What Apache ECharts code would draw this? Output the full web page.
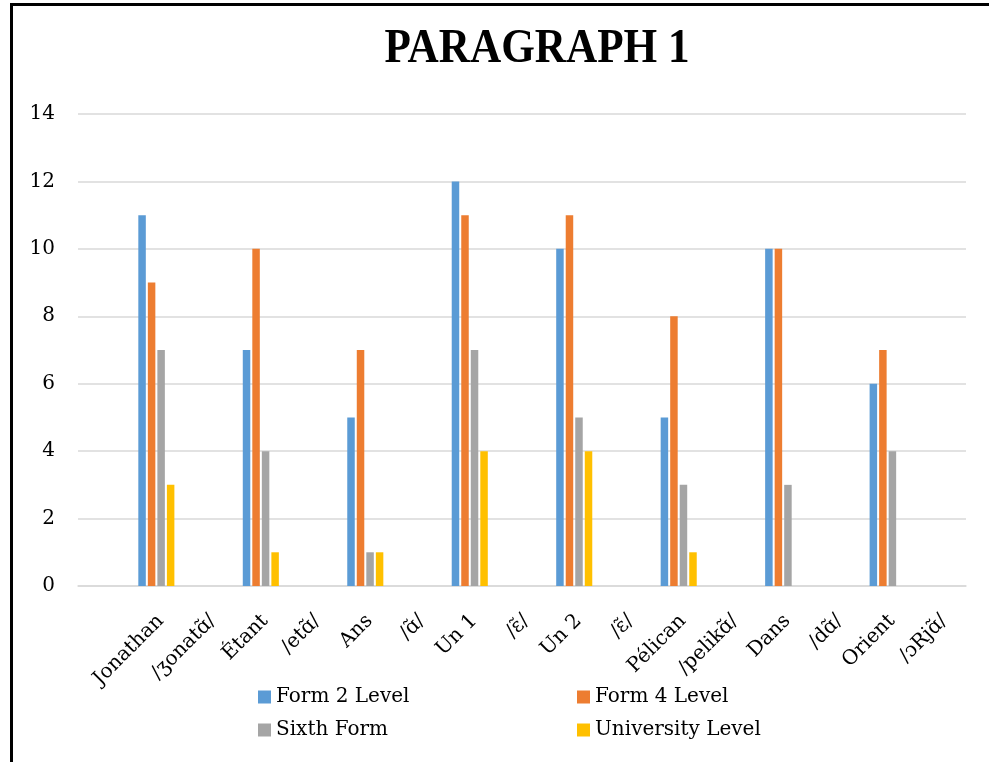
<!DOCTYPE html>
<html>
<head>
<meta charset="utf-8">
<script src="https://cdn.jsdelivr.net/npm/echarts@6/dist/echarts.min.js"></script>
<style>
  html, body { margin: 0; padding: 0; background: #fff; }
  #chart { width: 989px; height: 762px; }
</style>
</head>
<body>
<div id="chart"></div>
<script>
// first slot is left empty, word and its transcription alternate after it
var categories = ['', 'Jonathan', '/ʒonatɑ̃/', 'Étant', '/etɑ̃/', 'Ans', '/ɑ̃/', 'Un 1', '/ɛ̃/',
  'Un 2', '/ɛ̃/', 'Pélican', '/pelikɑ̃/', 'Dans', '/dɑ̃/', 'Orient', '/ɔRjɑ̃/']

var form2 = [null, 11, null, 7, null, 5, null, 12, null, 10, null, 5, null, 10, null, 6, null]
var form4 = [null, 9, null, 10, null, 7, null, 11, null, 11, null, 8, null, 10, null, 7, null]
var sixth = [null, 7, null, 4, null, 1, null, 7, null, 5, null, 3, null, 3, null, 4, null]
var university = [null, 3, null, 1, null, 1, null, 4, null, 4, null, 1, null, null, null, null, null]

var yTicks = { min: 0, max: 14, step: 2 }

var font = 'DejaVu Serif'

function bar(name, values, color) {
  return {
    name: name,
    type: 'bar',
    data: values,
    barWidth: 7.5,
    barGap: '27%',
    itemStyle: { color: color }
  }
}

function legendColumn(names, left) {
  return {
    data: names,
    orient: 'vertical',
    left: left,
    top: 687,
    padding: 0,
    itemWidth: 13,
    itemHeight: 13,
    itemGap: 13,
    icon: 'rect',
    textStyle: { fontFamily: font, fontSize: 20, color: '#000', lineHeight: 20 }
  }
}

var chart = echarts.init(document.getElementById('chart'))
var option = {
  animation: false,
  backgroundColor: '#fff',
  textStyle: { fontFamily: font },
  graphic: [
    {
      type: 'polyline',
      shape: { points: [[11.5, 762], [11.5, 4.5], [989, 4.5]] },
      style: { stroke: '#000', lineWidth: 3, fill: null }
    },
    {
      type: 'text',
      x: 537,
      y: 50,
      scaleX: 0.9,
      style: {
        text: 'PARAGRAPH 1',
        font: 'bold 48px "Liberation Serif"',
        fill: '#000',
        align: 'center',
        verticalAlign: 'middle'
      }
    }
  ],
  legend: [
    legendColumn(['Form 2 Level', 'Sixth Form'], 258),
    legendColumn(['Form 4 Level', 'University Level'], 577)
  ],
  grid: { left: 78, right: 23, top: 114, bottom: 176, containLabel: false },
  xAxis: {
    type: 'category',
    data: categories,
    axisLine: { lineStyle: { color: '#d9d9d9', width: 1.5 } },
    axisTick: { show: false },
    axisLabel: {
      interval: 0,
      rotate: 45,
      margin: 22,
      align: 'right',
      verticalAlign: 'top',
      padding: [0, 4, 0, 0],
      fontFamily: font,
      fontSize: 20,
      color: '#000'
    }
  },
  yAxis: {
    type: 'value',
    min: yTicks.min,
    max: yTicks.max,
    interval: yTicks.step,
    axisLine: { show: false },
    axisTick: { show: false },
    axisLabel: { margin: 23, fontFamily: font, fontSize: 20, color: '#000' },
    splitLine: { lineStyle: { color: '#d9d9d9', width: 1.5 } }
  },
  series: [
    bar('Form 2 Level', form2, '#5b9bd5'),
    bar('Form 4 Level', form4, '#ed7d31'),
    bar('Sixth Form', sixth, '#a5a5a5'),
    bar('University Level', university, '#ffc000')
  ]
}
chart.setOption(option)
</script>
</body>
</html>
